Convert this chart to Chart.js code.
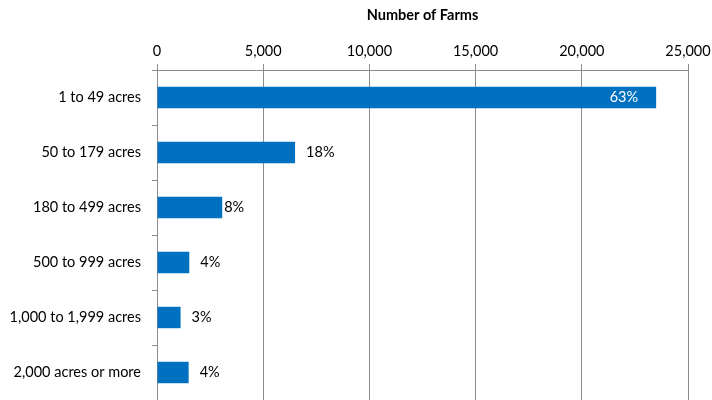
<!DOCTYPE html>
<html>
<head>
<meta charset="utf-8">
<script src="https://cdn.jsdelivr.net/npm/chart.js@4"></script>
<style>
  html, body { margin: 0; padding: 0; background: #fff; }
  #wrap { width: 712px; height: 400px; }
</style>
</head>
<body>
<div id="wrap"><canvas id="myChart" width="712" height="400"></canvas></div>
<script>
const categories = ["1 to 49 acres", "50 to 179 acres", "180 to 499 acres", "500 to 999 acres", "1,000 to 1,999 acres", "2,000 acres or more"];
const farms = [23500, 6500, 3070, 1520, 1110, 1490];
const shareLabels = ["63%", "18%", "8%", "4%", "3%", "4%"];

const FONT = "Lato, 'Open Sans', sans-serif";
const GRID = "#8c8c8c";

// draws the percentage next to (or inside) each bar
const barLabels = {
    id: "barLabels",
    afterDatasetsDraw(chart) {
        const ctx = chart.ctx;
        const meta = chart.getDatasetMeta(0);
        ctx.save();
        ctx.font = "14.5px " + FONT;
        ctx.textBaseline = "middle";
        meta.data.forEach(function (bar, i) {
            let text = shareLabels[i];
            if (i === 0) {
                ctx.fillStyle = "#ffffff";
                ctx.textAlign = "right";
                ctx.fillText(text, bar.x - 18, bar.y);
            } else {
                ctx.fillStyle = "#000000";
                ctx.textAlign = "left";
                let gap = (i === 2) ? 2 : 11;
                ctx.fillText(text, bar.x + gap, bar.y);
            }
        });
        ctx.restore();
    }
};

new Chart("myChart", {
    type: "bar",
    data: {
        labels: categories,
        datasets: [{
            data: farms,
            backgroundColor: "#0070c0",
            barPercentage: 0.78,
            categoryPercentage: 0.5
        }]
    },
    options: {
        indexAxis: "y",
        responsive: false,
        animation: false,
        layout: { padding: 0 },
        plugins: {
            legend: { display: false },
            tooltip: { enabled: false }
        },
        scales: {
            x: {
                position: "top",
                min: 0,
                max: 25000,
                ticks: {
                    stepSize: 5000,
                    color: "#000",
                    font: { family: FONT, size: 14.5 },
                    padding: 4,
                    callback: function (v) { return v.toLocaleString("en-US"); }
                },
                grid: { color: GRID, lineWidth: 1, tickLength: 6 },
                border: { color: GRID },
                title: {
                    display: true,
                    text: "Number of Farms",
                    color: "#000",
                    font: { family: FONT, size: 14.5, weight: "bold" },
                    padding: { top: 7, bottom: 11 }
                },
                afterFit: function (scale) {
                    scale.height = 70;
                    scale.paddingRight = 24;
                }
            },
            y: {
                ticks: {
                    color: "#000",
                    font: { family: FONT, size: 14.5 },
                    padding: 11
                },
                grid: { drawOnChartArea: false, color: GRID, tickLength: 5 },
                border: { color: GRID },
                afterFit: function (scale) {
                    scale.width = 157;
                    scale.paddingTop = 0;
                    scale.paddingBottom = 0;
                }
            }
        }
    },
    plugins: [barLabels]
});
</script>
</body>
</html>
